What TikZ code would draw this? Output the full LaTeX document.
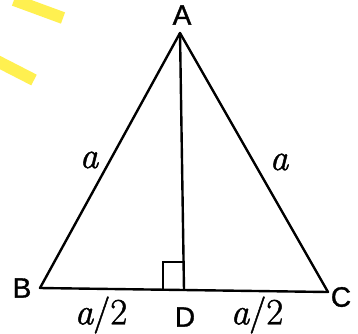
\documentclass[tikz,border=0pt]{standalone}
\usepackage{fontspec}
\setmainfont{Liberation Sans}
\newfontfamily\vfont[FakeBold=1.2]{Liberation Sans}
\newfontfamily\lmfont[FakeBold=1.2]{Latin Modern Roman}
\usetikzlibrary{calc}
\begin{document}
\begin{tikzpicture}[x=1pt,y=-1pt,
  edge/.style={line width=2.4pt, line cap=round, line join=round},
  vlabel/.style={font=\vfont\fontsize{28}{30}\selectfont, inner sep=0pt},
  slabel/.style={font=\lmfont\fontsize{37}{39}\selectfont, inner sep=0pt},
  hl/.style={line width=12pt, draw={rgb,255:red,255;green,240;blue,80}}]
\useasboundingbox (0,0) rectangle (358,333);
\fill[white] (0,0) rectangle (358,333);
% highlighter marks
\draw[hl] (14,0) -- (63,18);
\draw[hl] (-5,60) -- (34,80);
% vertices
\coordinate (A) at (180,33);
\coordinate (B) at (40,288);
\coordinate (C) at (328,292);
\coordinate (D) at (184,290);
\draw[edge] (A) -- (B) -- (C) -- cycle;
\draw[edge] (A) -- (D);
\draw[line width=2pt] ($(D)+(-21,-1)$) -- ($(D)+(-21,-28)$) -- ($(D)+(0,-28)$);
% labels
\node[vlabel] (lA) at (182,15) {A};
\node[vlabel] (lB) at (22,288) {B};
\node[vlabel] (lC) at (341,297) {C};
\node[vlabel] (lD) at (185,317) {D};
\node[slabel] (la1) at (89,160) {\itshape a};
\node[slabel] (la2) at (279,162) {\itshape a};
\node[slabel] (lh1) at (101,315) {{\itshape a}/2};
\node[slabel] (lh2) at (257,315) {{\itshape a}/2};
\end{tikzpicture}
\end{document}
